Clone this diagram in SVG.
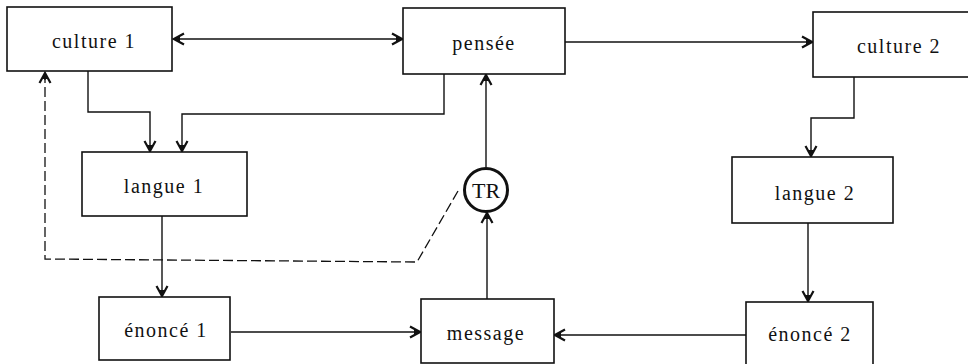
<svg xmlns="http://www.w3.org/2000/svg" width="968" height="364" viewBox="0 0 968 364">
<style>
.box{fill:#fff;stroke:#111;stroke-width:1.6}
.lbl{font-family:"Liberation Serif","Times New Roman",serif;font-size:20px;letter-spacing:1.5px;fill:#111;text-anchor:middle}
.ln{fill:none;stroke:#111;stroke-width:1.4}
.dash{fill:none;stroke:#111;stroke-width:1.3;stroke-dasharray:10,4}
</style>
<defs>
<marker id="ah" viewBox="-12 -7 14 14" markerWidth="14" markerHeight="14" refX="0" refY="0" orient="auto-start-reverse" markerUnits="userSpaceOnUse">
<path d="M-10,-5.5 L0,0 L-10,5.5" fill="none" stroke="#111" stroke-width="2.2"/>
<path d="M-6,-3 L0,0 L-6,3 Z" fill="#111"/>
</marker>
</defs>
<rect width="968" height="364" fill="#fff"/>
<g id="connectors">
<path class="ln" d="M174,39 H402" marker-start="url(#ah)" marker-end="url(#ah)"/>
<path class="ln" d="M565,42 H812" marker-end="url(#ah)"/>
<path class="ln" d="M88,71 V112 H150 V151" marker-end="url(#ah)"/>
<path class="ln" d="M444,74 V114 H182 V151" marker-end="url(#ah)"/>
<path class="ln" d="M854,77 V118 H811 V156" marker-end="url(#ah)"/>
<path class="ln" d="M162,216 V296" marker-end="url(#ah)"/>
<path class="ln" d="M808,223 V301" marker-end="url(#ah)"/>
<path class="ln" d="M231,332 H420" marker-end="url(#ah)"/>
<path class="ln" d="M746,335 H555" marker-end="url(#ah)"/>
<path class="ln" d="M487,299 V213" marker-end="url(#ah)"/>
<path class="ln" d="M486,167 V75" marker-end="url(#ah)"/>
<path class="dash" d="M458,191 L417,262 L45,259 L45,74"/>
<path class="ln" d="M45,80 V73" marker-end="url(#ah)"/>
</g>
<g id="culture1"><rect class="box" x="7" y="7" width="165" height="64"/><text class="lbl" x="94" y="48">culture 1</text></g>
<g id="pensee"><rect class="box" x="403" y="8" width="162" height="66"/><text class="lbl" x="484" y="50">pensée</text></g>
<g id="culture2"><rect class="box" x="813" y="12" width="170" height="65"/><text class="lbl" x="899" y="53">culture 2</text></g>
<g id="langue1"><rect class="box" x="82" y="152" width="165" height="64"/><text class="lbl" x="164" y="193">langue 1</text></g>
<g id="langue2"><rect class="box" x="732" y="157" width="161" height="66"/><text class="lbl" x="815" y="200">langue 2</text></g>
<g id="enonce1"><rect class="box" x="99" y="297" width="131" height="63"/><text class="lbl" x="166" y="337">énoncé 1</text></g>
<g id="message"><rect class="box" x="421" y="299" width="133" height="64"/><text class="lbl" x="486" y="340">message</text></g>
<g id="enonce2"><rect class="box" x="746" y="302" width="127" height="64"/><text class="lbl" x="810" y="341">énoncé 2</text></g>
<g id="TR"><circle cx="486" cy="190" r="21.5" fill="#fff" stroke="#111" stroke-width="3"/><text x="486" y="198" font-family="Liberation Serif,serif" font-size="22" text-anchor="middle" fill="#111">TR</text></g>
</svg>
